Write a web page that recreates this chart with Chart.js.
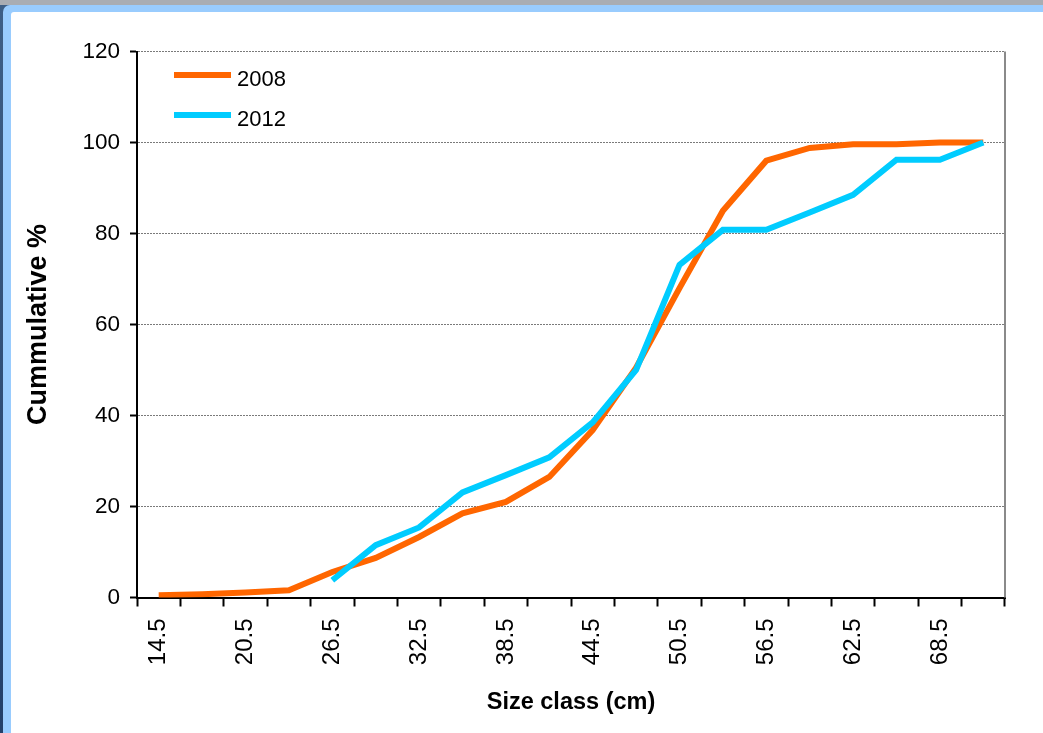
<!DOCTYPE html>
<html>
<head>
<meta charset="utf-8">
<title>Cumulative size-class distribution</title>
<script src="https://cdn.jsdelivr.net/npm/chart.js@4.4.1/dist/chart.umd.min.js"></script>
<style>
  html, body { margin: 0; padding: 0; }
  body {
    width: 1043px; height: 733px; overflow: hidden; position: relative;
    background: linear-gradient(180deg, #a9adb3 0px, #a9adb3 5px, #3e5f86 5px, #23406a 100%);
  }
  #frame {
    position: absolute; left: 3px; top: 5px; right: 0; bottom: 0;
    background: #99ccfe; border-top-left-radius: 7px;
  }
  #sheet {
    position: absolute; left: 11px; top: 12px; right: 0; bottom: 0;
    background: #ffffff; border-top-left-radius: 3px;
  }
  #chart { position: absolute; left: 0; top: 0; }
</style>
</head>
<body>
<div id="frame"></div>
<div id="sheet"></div>
<canvas id="chart" width="1043" height="733"></canvas>
<script>
// Size classes (cm), one point per 3 cm class
const sizeClasses = ['14.5','17.5','20.5','23.5','26.5','29.5','32.5','35.5','38.5','41.5',
                     '44.5','47.5','50.5','53.5','56.5','59.5','62.5','65.5','68.5','71.5'];

// Cumulative percentage per survey year
const cum2008 = [0.5, 0.7, 1.1, 1.6, 5.6, 8.7, 13.3, 18.5, 21.0, 26.5,
                 36.8, 50.5, 68.0, 85.0, 96.0, 98.8, 99.6, 99.6, 100, 100];
const cum2012 = [null, null, null, null, 3.8, 11.5, 15.4, 23.1, 26.9, 30.8,
                 38.5, 50.0, 73.1, 80.8, 80.8, 84.6, 88.5, 96.2, 96.2, 100];

const seriesLabels = ['2008', '2012'];
const seriesColors = ['#ff6600', '#00ccff'];

const yTicks = [0, 20, 40, 60, 80, 100, 120];

const FONT = 'Liberation Sans, Arial, sans-serif';

// Grey frame on the right of the plot area
const plotFrame = {
  id: 'plotFrame',
  beforeDatasetsDraw(chart) {
    const {ctx, chartArea: a} = chart;
    ctx.save();
    ctx.strokeStyle = '#8a8a8a';
    ctx.lineWidth = 2;
    ctx.beginPath();
    ctx.moveTo(a.right, a.top);
    ctx.lineTo(a.right, a.bottom);
    ctx.stroke();
    ctx.restore();
  }
};

// Legend box placed inside the top-left corner of the plot
const insideLegend = {
  id: 'insideLegend',
  afterDraw(chart) {
    const {ctx, chartArea: a} = chart;
    ctx.save();
    ctx.font = '22px ' + FONT;
    ctx.textBaseline = 'middle';
    ctx.textAlign = 'left';
    chart.data.datasets.forEach((ds, i) => {
      const y = a.top + 23.5 + i * 40;
      ctx.strokeStyle = ds.borderColor;
      ctx.lineWidth = 6;
      ctx.beginPath();
      ctx.moveTo(a.left + 37, y);
      ctx.lineTo(a.left + 94, y);
      ctx.stroke();
      ctx.fillStyle = '#000';
      ctx.fillText(ds.label, a.left + 100, y + 5);
    });
    ctx.restore();
  }
};

new Chart(document.getElementById('chart'), {
  type: 'line',
  data: {
    labels: sizeClasses,
    datasets: [
      { label: seriesLabels[0], data: cum2008, borderColor: seriesColors[0], backgroundColor: seriesColors[0],
        borderWidth: 6, pointRadius: 0, tension: 0, order: 1, spanGaps: false },
      { label: seriesLabels[1], data: cum2012, borderColor: seriesColors[1], backgroundColor: seriesColors[1],
        borderWidth: 6, pointRadius: 0, tension: 0, order: 0, spanGaps: false }
    ]
  },
  options: {
    responsive: false,
    animation: false,
    events: [],
    layout: { padding: { left: 0, top: 51.5, right: 38, bottom: 14 } },
    plugins: { legend: { display: false }, tooltip: { enabled: false } },
    scales: {
      x: {
        type: 'category',
        offset: true,
        grid: { offset: true, drawOnChartArea: false, drawTicks: true, tickLength: 9, tickColor: '#000', tickWidth: 2 },
        border: { display: true, color: '#000', width: 2 },
        ticks: {
          autoSkip: false, maxRotation: 90, minRotation: 90, padding: 12,
          color: '#000', font: { family: FONT, size: 24 },
          callback(value, index) { return index % 2 === 0 ? this.getLabelForValue(value) : ''; }
        },
        title: { display: true, text: 'Size class (cm)', color: '#000',
                 font: { family: FONT, size: 23.5, weight: 'bold' }, padding: { top: 0, bottom: 2 } },
        afterFit(scale) { scale.height = 733 - 597.5 - 14; }
      },
      y: {
        min: 0, max: 120,
        afterBuildTicks(scale) { scale.ticks = yTicks.map(v => ({ value: v })); },
        grid: {
          drawTicks: true, tickLength: 7, tickColor: '#000', tickWidth: 2,
          color: ctx => (ctx.tick && ctx.tick.value === 0) ? 'rgba(0,0,0,0)' : '#7a7a7a',
          lineWidth: 1
        },
        border: { display: true, color: '#000', width: 2, dash: [2, 1] },
        ticks: { color: '#000', font: { family: FONT, size: 22.5 }, padding: 10 },
        title: { display: true, text: 'Cummulative %', color: '#000',
                 font: { family: FONT, size: 27, weight: 'bold' }, padding: { top: 22, bottom: 0 } },
        afterFit(scale) { scale.width = 137; }
      }
    }
  },
  plugins: [plotFrame, insideLegend]
});
</script>
</body>
</html>
